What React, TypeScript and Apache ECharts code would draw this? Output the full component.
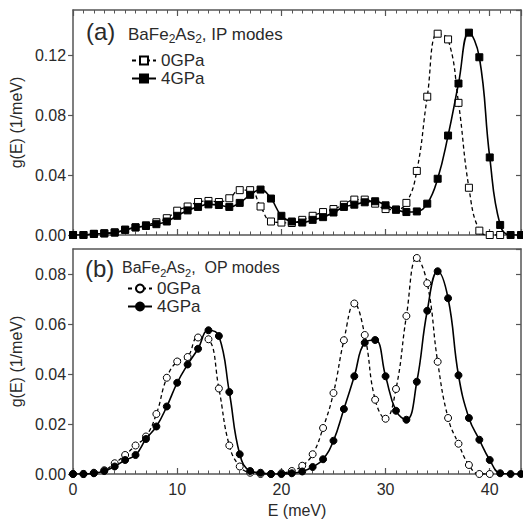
import React, { useEffect, useRef } from "react";
import * as echarts from "echarts";

const energyIP4 = [0,1,2,3,4,5,6,7,8,9,10,11,12,13,14,15,16,17,18,19,20,21,22,23,24,25,26,27,28,29,30,31,32,33,34,35,36,37,38,39,40,41,42,43];
const ip4GPa = [0,0,0.0007,0.001,0.0016,0.0034,0.005,0.006,0.0072,0.009,0.0128,0.0164,0.0187,0.0204,0.02,0.0187,0.0214,0.0268,0.0303,0.0243,0.0128,0.009,0.0083,0.0101,0.0119,0.015,0.0187,0.0202,0.0218,0.0225,0.0198,0.0169,0.0153,0.0157,0.0209,0.0375,0.0663,0.101,0.1349,0.1185,0.0517,0.0067,0,0];
const energyIP0 = [0,1,2,3,4,5,6,7,8,9,10,11,12,13,14,15,16,17,18,19,20,21,22,23,24,25,26,27,28,29,30,31,32,33,34,35,36,37,38,39,40,41];
const ip0GPa = [0,0,0.0008,0.0012,0.0018,0.0036,0.0052,0.0065,0.0085,0.0112,0.0162,0.019,0.022,0.0227,0.022,0.0245,0.0299,0.0299,0.019,0.009,0.0083,0.008,0.0101,0.0128,0.0153,0.0173,0.0202,0.0236,0.0236,0.0209,0.0173,0.0169,0.0214,0.0427,0.0922,0.1342,0.1304,0.0881,0.0315,0.0029,0,0];
const energyOP4 = [0,1,2,3,4,5,6,7,8,9,10,11,12,13,14,15,16,17,18,19,20,21,22,23,24,25,26,27,28,29,30,31,32,33,34,35,36,37,38,39,40,41,42,43];
const op4GPa = [0,0,0.0003,0.0012,0.003,0.0056,0.0076,0.014,0.019,0.027,0.0365,0.0438,0.0501,0.0575,0.0552,0.0328,0.0079,0.0012,0.0005,0,0,0.0003,0.001,0.0028,0.0059,0.0133,0.026,0.0391,0.0525,0.0536,0.0391,0.0253,0.0217,0.0369,0.0653,0.0811,0.0703,0.0395,0.0224,0.0137,0.0056,0.0003,0,0];
const energyOP0 = [0,1,2,3,4,5,6,7,8,9,10,11,12,13,14,15,16,17,18,19,20,21,22,23,24,25,26,27,28,29,30,31,32,33,34,35,36,37,38,39,40];
const op0GPa = [0,0,0.0005,0.0015,0.0043,0.0076,0.0114,0.015,0.024,0.0385,0.045,0.0468,0.0546,0.0539,0.0342,0.0114,0.003,0.0005,0,0,0.0003,0.0012,0.0033,0.0079,0.0184,0.0324,0.0535,0.0682,0.0556,0.0297,0.0221,0.034,0.0632,0.0864,0.0763,0.0449,0.0224,0.0121,0.0036,0,0];

const xTicks = [0, 10, 20, 30, 40];
const legendLabels = ["0GPa", "4GPa"];

const FONT = '"Liberation Sans", Arial, sans-serif';
const AXIS = "#555";
const TEXT = "#2a2a2a";

const zip = (xs: number[], ys: number[]) => xs.map((x, i) => [x, ys[i]]);

export default function App() {
  const ref = useRef<HTMLDivElement>(null);
  useEffect(() => {
    if (!ref.current) return;
    const chart = echarts.init(ref.current, undefined, { renderer: "svg" });
    const axisLine = { show: true, onZero: false, lineStyle: { color: AXIS, width: 1.5 } };
    const xBase = (gridIndex: number, position: string, labels: boolean, ticks: boolean) => ({
      type: "value",
      gridIndex,
      position,
      min: 0,
      max: 43,
      interval: 10,
      axisLine,
      splitLine: { show: false },
      axisTick: { show: ticks, inside: true, length: 6, lineStyle: { color: AXIS, width: 1.2 } },
      minorTick: { show: ticks, splitNumber: 10, length: 3.5, lineStyle: { color: AXIS, width: 1 } },
      minorSplitLine: { show: false },
      axisLabel: {
        show: labels,
        showMaxLabel: false,
        fontSize: 16,
        fontFamily: FONT,
        color: TEXT,
        margin: 7,
        formatter: (v: number) => (xTicks.includes(v) ? String(v) : ""),
      },
      name: labels ? "E (meV)" : "",
      nameLocation: "middle",
      nameGap: 28,
      nameTextStyle: { fontSize: 16, fontFamily: FONT, color: TEXT },
    });
    const yLeft = (gridIndex: number, max: number, interval: number) => ({
      type: "value",
      gridIndex,
      position: "left",
      min: 0,
      max,
      interval,
      axisLine,
      splitLine: { show: false },
      axisTick: { show: true, inside: false, length: 5, lineStyle: { color: AXIS, width: 1.2 } },
      axisLabel: {
        show: true,
        showMaxLabel: false,
        fontSize: 16,
        fontFamily: FONT,
        color: TEXT,
        margin: 7,
        formatter: (v: number) => v.toFixed(2),
      },
      name: "g(E) (1/meV)",
      nameLocation: "middle",
      nameGap: 42,
      nameTextStyle: { fontSize: 16, fontFamily: FONT, color: TEXT },
    });
    const yRight = (gridIndex: number, max: number, interval: number) => ({
      type: "value",
      gridIndex,
      position: "right",
      min: 0,
      max,
      interval,
      axisLine,
      splitLine: { show: false },
      axisTick: { show: true, inside: true, length: 5, lineStyle: { color: AXIS, width: 1.2 } },
      axisLabel: { show: false },
    });
    const mkSeries = (
      name: string,
      data: number[][],
      xi: number,
      yi: number,
      symbol: string,
      open: boolean,
      dashed: boolean
    ) => ({
      type: "line",
      name,
      data,
      xAxisIndex: xi,
      yAxisIndex: yi,
      smooth: 0.45,
      symbol,
      symbolSize: 7,
      showAllSymbol: true,
      z: open ? 2 : 3,
      lineStyle: { color: "#000", width: dashed ? 1.3 : 1.6, type: dashed ? [4, 3] : "solid" },
      itemStyle: { color: open ? "#fff" : "#000", borderColor: "#000", borderWidth: 1 },
      emphasis: { disabled: true },
    });
    const sub = (label: string, size: number) => ({
      text: `{a|BaFe}{s|2}{a|As}{s|2}{a|, ${label}}`,
      rich: {
        a: { fontSize: size, fontFamily: FONT, fill: TEXT, lineHeight: 22 },
        s: { fontSize: size - 5, fontFamily: FONT, fill: TEXT, lineHeight: 12, verticalAlign: "bottom" },
      },
    });
    const legendCommon = {
      orient: "vertical",
      itemWidth: 24,
      itemHeight: 10,
      itemGap: 1,
      textStyle: { fontSize: 17, fontFamily: FONT, color: TEXT },
      formatter: (n: string) => n.split(" ")[1],
      selectedMode: false,
    };
    chart.setOption({
      animation: false,
      backgroundColor: "#fff",
      grid: [
        { left: 70, right: 2, top: 10, height: 225 },
        { left: 70, right: 2, top: 249, height: 225 },
      ],
      xAxis: [
        xBase(0, "bottom", false, true),
        xBase(0, "top", false, true),
        xBase(1, "bottom", true, true),
        xBase(1, "top", false, false),
      ],
      yAxis: [yLeft(0, 0.15, 0.04), yRight(0, 0.15, 0.04), yLeft(1, 0.09, 0.02), yRight(1, 0.09, 0.02)],
      legend: [
        { ...legendCommon, data: ["IP " + legendLabels[0], "IP " + legendLabels[1]], left: 126, top: 47 },
        { ...legendCommon, data: ["OP " + legendLabels[0], "OP " + legendLabels[1]], left: 122, top: 275 },
      ],
      series: [
        mkSeries("IP 0GPa", zip(energyIP0, ip0GPa), 0, 0, "rect", true, true),
        mkSeries("IP 4GPa", zip(energyIP4, ip4GPa), 0, 0, "rect", false, false),
        mkSeries("OP 0GPa", zip(energyOP0, op0GPa), 2, 2, "circle", true, true),
        mkSeries("OP 4GPa", zip(energyOP4, op4GPa), 2, 2, "circle", false, false),
      ],
      graphic: [
        { type: "text", x: 86, y: 31, style: { text: "(a)", font: `24px ${FONT}`, fill: TEXT, verticalAlign: "middle" } },
        { type: "text", x: 128, y: 34, style: { ...sub("IP modes", 17), verticalAlign: "middle" } },
        { type: "text", x: 85, y: 268, style: { text: "(b)", font: `24px ${FONT}`, fill: TEXT, verticalAlign: "middle" } },
        { type: "text", x: 122, y: 267, style: { ...sub(" OP modes", 16), verticalAlign: "middle" } },
      ],
    });
    return () => chart.dispose();
  }, []);
  return <div ref={ref} style={{ width: 523, height: 519, position: "absolute", left: 0, top: 0 }} />;
}
